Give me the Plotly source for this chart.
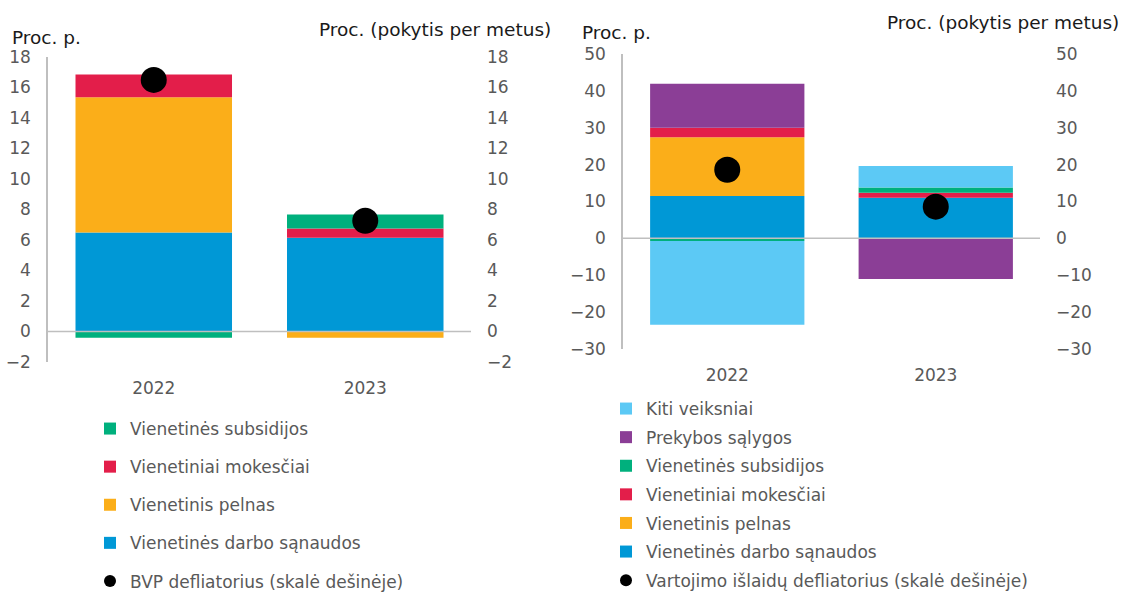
import plotly.graph_objects as go

W, H = 1133, 592

years = ["2022", "2023"]

# Left chart (BVP deflatorius decomposition), percentage points
l_labour = [6.5, 6.14]
l_profit = [8.86, -0.41]
l_taxes = [1.5, 0.61]
l_subsid = [-0.41, 0.92]
l_deflator = [16.5, 7.26]

# Right chart (consumption deflator decomposition), percentage points
r_labour = [11.47, 11.03]
r_profit = [15.92, 0.0]
r_taxes = [2.62, 1.36]
r_subsid = [-0.72, 1.44]
r_terms = [11.95, -11.03]
r_other = [-22.7, 5.78]
r_deflator = [18.6, 8.6]

left_ticks = [-2, 0, 2, 4, 6, 8, 10, 12, 14, 16, 18]
right_ticks = [-30, -20, -10, 0, 10, 20, 30, 40, 50]

names = {
    "labour": "Vienetinės darbo sąnaudos",
    "profit": "Vienetinis pelnas",
    "taxes": "Vienetiniai mokesčiai",
    "subsid": "Vienetinės subsidijos",
    "terms": "Prekybos sąlygos",
    "other": "Kiti veiksniai",
}
colors = {
    "labour": "#0098D6",
    "profit": "#FBAE19",
    "taxes": "#E31E4A",
    "subsid": "#00B07D",
    "terms": "#8B3E96",
    "other": "#5CC9F5",
}

FONT = "DejaVu Sans"
GRAY = "#595959"

fig = go.Figure()

def px_x(p):
    return p / W

def px_y(p):
    return 1 - p / H

# left chart bars
left_series = [("labour", l_labour, 4), ("profit", l_profit, 3), ("taxes", l_taxes, 2), ("subsid", l_subsid, 1)]
for key, vals, rank in left_series:
    fig.add_trace(go.Bar(
        x=years, y=vals, name=names[key], marker=dict(color=colors[key], line=dict(width=0)),
        xaxis="x", yaxis="y", legend="legend", legendgroup="L" + key, legendrank=rank,
    ))
fig.add_trace(go.Scatter(
    x=years, y=l_deflator, mode="markers", name="BVP defliatorius (skalė dešinėje)",
    marker=dict(color="black", size=26), xaxis="x", yaxis="y2", legend="legend",
    legendgroup="Ldefl", legendrank=5,
))

right_series = [("labour", r_labour, 6), ("profit", r_profit, 5), ("taxes", r_taxes, 4),
                ("subsid", r_subsid, 3), ("terms", r_terms, 2), ("other", r_other, 1)]
for key, vals, rank in right_series:
    fig.add_trace(go.Bar(
        x=years, y=vals, name=names[key], marker=dict(color=colors[key], line=dict(width=0)),
        xaxis="x2", yaxis="y3", legend="legend2", legendgroup="R" + key, legendrank=rank,
    ))
fig.add_trace(go.Scatter(
    x=years, y=r_deflator, mode="markers", name="Vartojimo išlaidų defliatorius (skalė dešinėje)",
    marker=dict(color="black", size=26), xaxis="x2", yaxis="y4", legend="legend2",
    legendgroup="Rdefl", legendrank=7,
))

tickfont = dict(family=FONT, size=17, color=GRAY)

common_y = dict(showgrid=False, zeroline=False, tickfont=tickfont, ticks="", fixedrange=True)

fig.update_layout(
    width=W, height=H,
    margin=dict(l=0, r=0, t=0, b=0, autoexpand=False),
    paper_bgcolor="white", plot_bgcolor="white",
    barmode="relative", bargap=0.26,
    font=dict(family=FONT, size=17, color=GRAY),
    xaxis=dict(domain=[px_x(48), px_x(471)], anchor="y", showgrid=False, zeroline=False,
               showline=False, ticks="", tickfont=tickfont, ticklabelstandoff=14),
    yaxis=dict(domain=[px_y(362), px_y(57)], range=[-2, 18], tickvals=left_ticks,
               showline=True, linecolor="#BFBFBF", linewidth=1.5, anchor="x",
               ticklabelstandoff=12, **common_y),
    yaxis2=dict(overlaying="y", side="right", anchor="x", range=[-2, 18], tickvals=left_ticks,
                showline=False, ticklabelstandoff=15, **common_y),
    xaxis2=dict(domain=[px_x(623), px_x(1040)], anchor="y3", showgrid=False, zeroline=False,
                showline=False, ticks="", tickfont=tickfont, ticklabelstandoff=14),
    yaxis3=dict(domain=[px_y(349), px_y(54)], range=[-30, 50], tickvals=right_ticks,
                showline=True, linecolor="#BFBFBF", linewidth=1.5, anchor="x2",
                ticklabelstandoff=12, **common_y),
    yaxis4=dict(overlaying="y3", side="right", anchor="x2", range=[-30, 50], tickvals=right_ticks,
                showline=False, ticklabelstandoff=15, **common_y),
    legend=dict(x=px_x(90), y=px_y(411), xanchor="left", yanchor="top",
                traceorder="grouped", tracegroupgap=13, itemsizing="constant",
                font=dict(family=FONT, size=17, color=GRAY), bgcolor="rgba(0,0,0,0)"),
    legend2=dict(x=px_x(606), y=px_y(391), xanchor="left", yanchor="top",
                 traceorder="grouped", tracegroupgap=3.5, itemsizing="constant",
                 font=dict(family=FONT, size=17, color=GRAY), bgcolor="rgba(0,0,0,0)"),
    showlegend=True,
)

# zero lines drawn above bars
fig.add_shape(type="line", xref="x domain", yref="y", x0=0, x1=1, y0=0, y1=0,
              line=dict(color="#BFBFBF", width=1.5), layer="above")
fig.add_shape(type="line", xref="x2 domain", yref="y3", x0=0, x1=1, y0=0, y1=0,
              line=dict(color="#BFBFBF", width=1.5), layer="above")

title_font = dict(family=FONT, size=18.5, color="#1a1a1a")
annos = [
    ("Proc. p.", 10, 37, "left"),
    ("Proc. (pokytis per metus)", 553, 30, "right"),
    ("Proc. p.", 580, 33, "left"),
    ("Proc. (pokytis per metus)", 1121, 22, "right"),
]
for text, xp, yp, anchor in annos:
    fig.add_annotation(text=text, xref="paper", yref="paper", x=px_x(xp), y=px_y(yp),
                       xanchor=anchor, yanchor="middle", showarrow=False, font=title_font)

fig.write_html("out.html", config={"displayModeBar": False},
               post_script="document.body.style.margin='0px';")
